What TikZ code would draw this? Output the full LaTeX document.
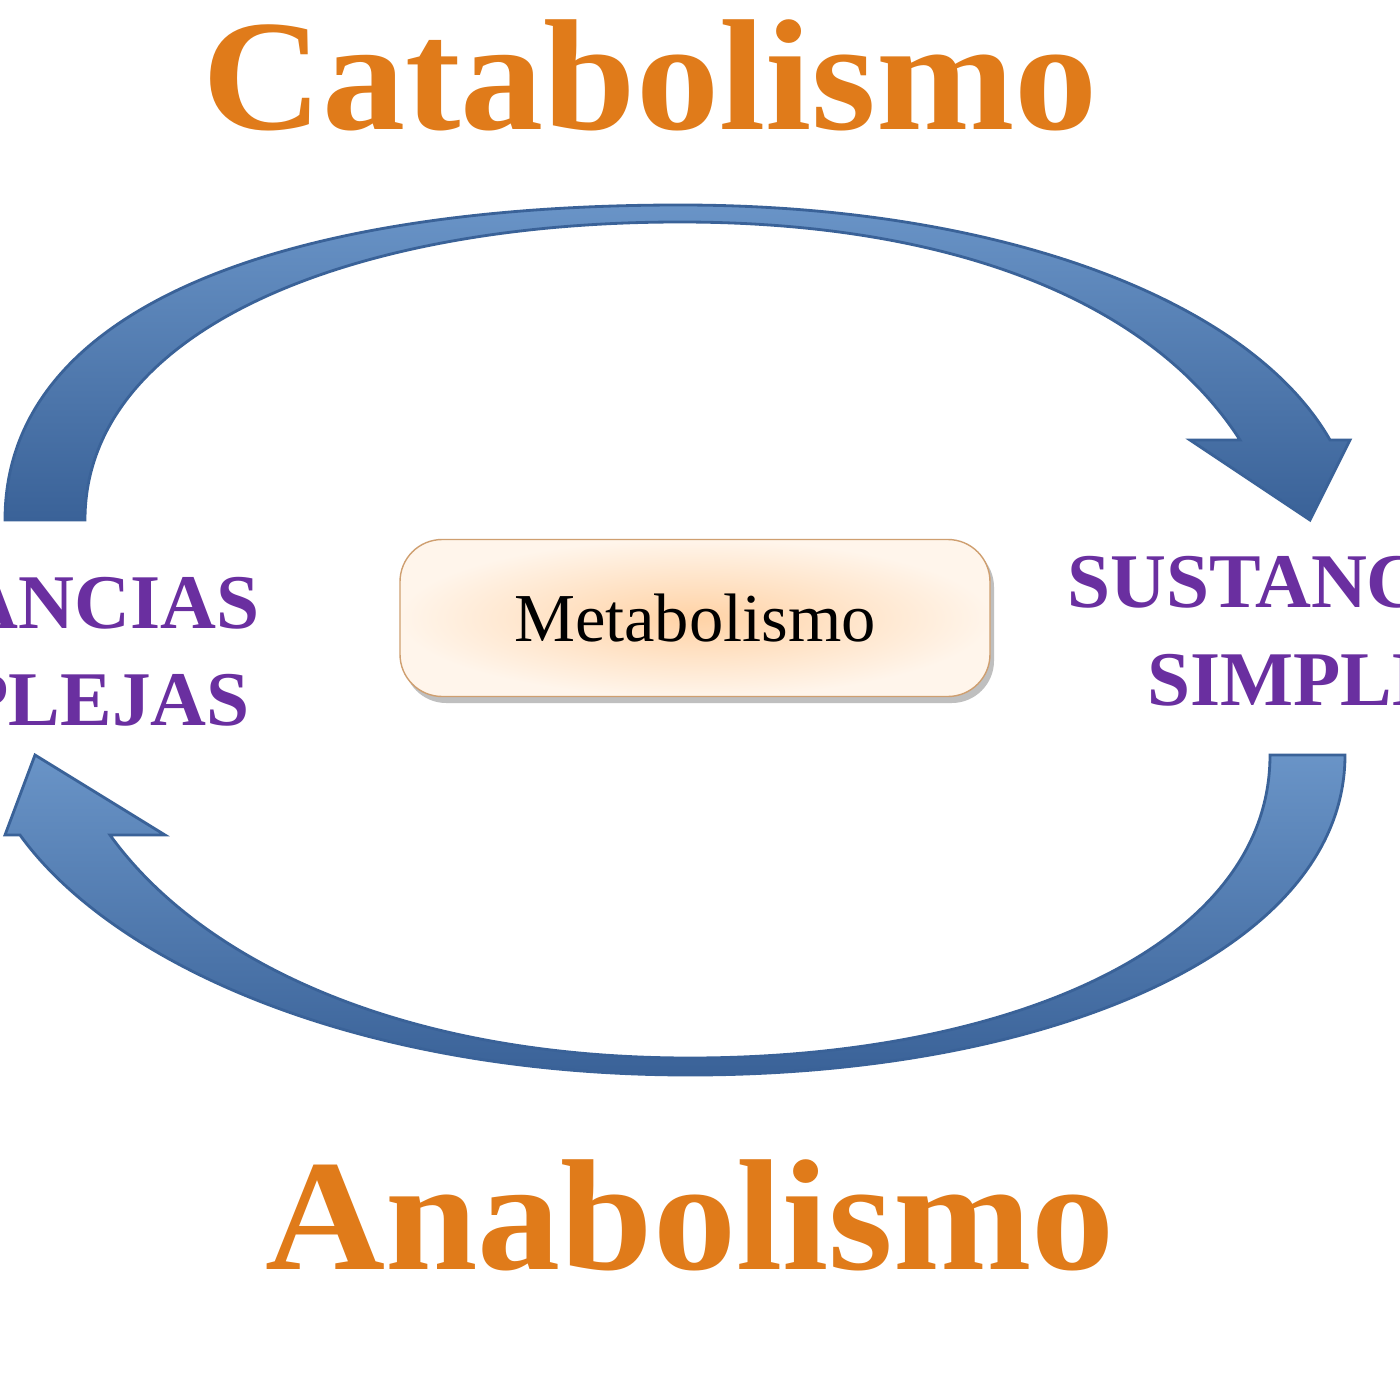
\documentclass[tikz,border=0pt]{standalone}
\usepackage{fontspec}
\setmainfont{Liberation Serif}
\definecolor{orng}{HTML}{E07B1A}
\definecolor{purp}{HTML}{6A2FA0}
\definecolor{blu}{HTML}{4F81BD}
\definecolor{bluD}{HTML}{3A6298}
\begin{document}
\begin{tikzpicture}[x=0.01cm,y=-0.01cm,
  band/.style={draw=bluD,line width=0.8pt,top color=blu!85!white,bottom color=bluD},
  title/.style={text=orng,font=\fontsize{45}{54}\selectfont\bfseries},
  side/.style={text=purp,font=\fontsize{22}{26}\selectfont\bfseries}]
\fill[white] (0,0) rectangle (1400,1400);
\useasboundingbox (0,0) rectangle (1400,1400);
\clip (0,0) rectangle (1400,1400);
\node[title,xscale=1.05] (cat) at (650,75) {Catabolismo};
\node[title,xscale=1.05] (ana) at (690,1215) {Anabolismo};
\path[band] (5,520) .. controls (5,300) and (300,205) .. (680,205)
  .. controls (1000,205) and (1250,300) .. (1330,440) -- (1350,440) -- (1310,520) -- (1190,440) -- (1240,440)
  .. controls (1150,300) and (950,222) .. (680,222)
  .. controls (350,222) and (85,330) .. (85,520) -- cycle;
\path[band] (1345,755) .. controls (1345,950) and (1050,1075) .. (690,1075)
  .. controls (350,1075) and (110,960) .. (20,835) -- (5,835) -- (35,755) -- (165,835) -- (110,835)
  .. controls (200,960) and (400,1058) .. (690,1058)
  .. controls (1000,1058) and (1270,950) .. (1270,755) -- cycle;
\fill[black!25,rounded corners=12pt] (404,545) rectangle (994,703);
\node[draw=brown!75,rounded corners=12pt,minimum width=590*0.01cm,minimum height=157*0.01cm,
  inner color=orange!35,outer color=orange!8,font=\fontsize{19.5}{24}\selectfont] (meta) at (695,618) {Metabolismo};
\node[side,anchor=base east] (l1) at (272,628) {SUSTANCIAS};
\node[side,anchor=base east] (l2) at (262,725) {COMPLEJAS};
\node[side,anchor=base west] (r1) at (1055,607) {SUSTANCIAS};
\node[side,anchor=base west] (r2) at (1135,705) {SIMPLES};
\end{tikzpicture}
\end{document}
